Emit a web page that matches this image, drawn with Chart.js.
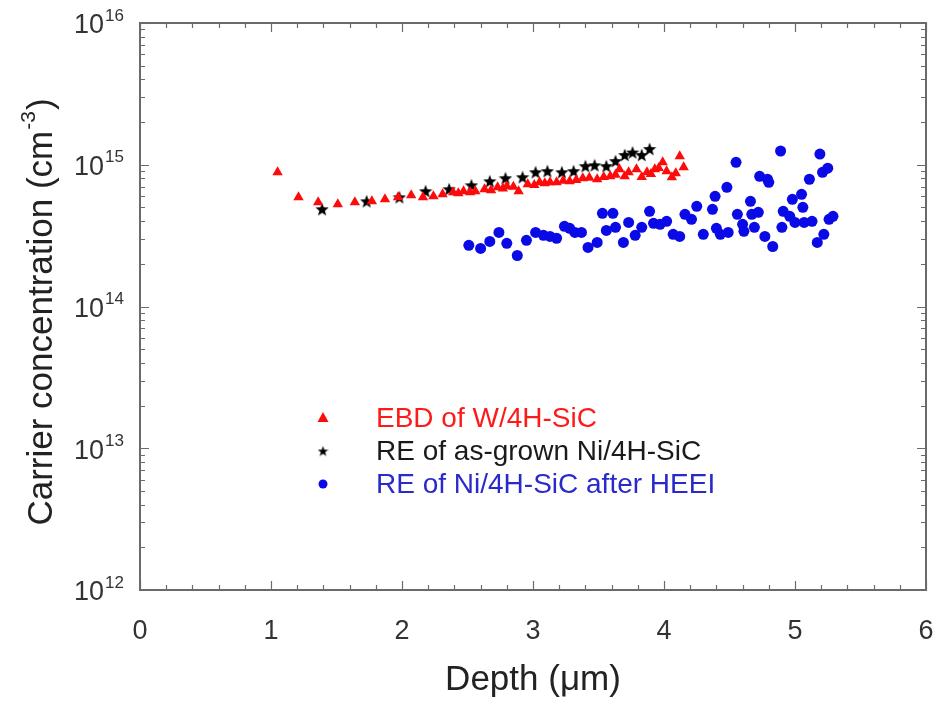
<!DOCTYPE html>
<html lang="en">
<head>
  <meta charset="UTF-8">
  <title>Carrier concentration vs depth</title>
  <script src="https://cdn.jsdelivr.net/npm/chart.js"></script>
  <style>
    body { margin: 0; padding: 0; background: #fff; }
    canvas { display: block; }
  </style>
</head>
<body>
  <canvas id="profile" width="937" height="704"></canvas>

  <script>
    // EBD of W/4H-SiC (red triangles)
    const depthEBD = [1.05, 1.21, 1.36, 1.51, 1.64, 1.77, 1.87, 1.97, 2.07, 2.16, 2.24, 2.31, 2.39, 2.43, 2.47, 2.52,
      2.56, 2.63, 2.68, 2.73, 2.77, 2.80, 2.85, 2.89, 2.96, 3.01, 3.05, 3.09, 3.13, 3.18, 3.23, 3.28, 3.33, 3.38,
      3.43, 3.49, 3.54, 3.59, 3.63, 3.66, 3.70, 3.73, 3.79, 3.83, 3.87, 3.90, 3.93, 3.96, 3.99, 4.02, 4.06, 4.09,
      4.12, 4.15];
    const concEBD = [8.85e14, 5.89e14, 5.43e14, 5.26e14, 5.43e14, 5.52e14, 5.70e14, 5.89e14, 6.09e14, 5.89e14, 5.99e14,
      6.19e14, 6.40e14, 6.30e14, 6.50e14, 6.40e14, 6.50e14, 6.71e14, 6.60e14, 6.93e14, 6.80e14, 7.05e14, 7.00e14,
      6.50e14, 7.28e14, 7.20e14, 7.52e14, 7.40e14, 7.52e14, 7.52e14, 7.70e14, 7.64e14, 7.80e14, 8.03e14, 8.10e14,
      7.90e14, 8.20e14, 8.30e14, 8.50e14, 9.30e14, 8.30e14, 8.85e14, 9.30e14, 8.20e14, 8.85e14, 8.60e14, 9.30e14,
      9.50e14, 1.04e15, 9.00e14, 8.16e14, 8.70e14, 1.15e15, 9.60e14];

    // RE of as-grown Ni/4H-SiC (black stars)
    const depthAsGrown = [1.39, 1.73, 1.98, 2.18, 2.36, 2.53, 2.67, 2.79, 2.92, 3.02, 3.11, 3.22, 3.31, 3.40, 3.47,
      3.56, 3.63, 3.70, 3.76, 3.83, 3.89];
    const concAsGrown = [4.85e14, 5.52e14, 5.89e14, 6.50e14, 6.71e14, 7.16e14, 7.64e14, 8.03e14, 8.16e14, 8.85e14,
      9.00e14, 8.85e14, 9.00e14, 9.76e14, 9.90e14, 9.76e14, 1.06e15, 1.17e15, 1.22e15, 1.17e15, 1.29e15];

    // RE of Ni/4H-SiC after HEEI (blue circles)
    const depthHEEI = [2.51, 2.60, 2.67, 2.74, 2.80, 2.88, 2.95, 3.02, 3.08, 3.13, 3.18, 3.24, 3.28, 3.32, 3.37, 3.42,
      3.49, 3.53, 3.56, 3.61, 3.63, 3.69, 3.73, 3.78, 3.83, 3.89, 3.92, 3.97, 4.02, 4.07, 4.12, 4.16, 4.21, 4.25,
      4.30, 4.37, 4.39, 4.40, 4.43, 4.48, 4.49, 4.55, 4.56, 4.60, 4.61, 4.66, 4.67, 4.69, 4.72, 4.73, 4.77, 4.79,
      4.80, 4.83, 4.89, 4.90, 4.91, 4.96, 4.98, 5.00, 5.05, 5.06, 5.07, 5.11, 5.13, 5.17, 5.19, 5.21, 5.22, 5.25,
      5.26, 5.29];
    const concHEEI = [2.70e14, 2.57e14, 2.88e14, 3.33e14, 2.79e14, 2.29e14, 2.93e14, 3.33e14, 3.18e14, 3.12e14,
      3.03e14, 3.68e14, 3.56e14, 3.33e14, 3.33e14, 2.61e14, 2.83e14, 4.54e14, 3.44e14, 4.54e14, 3.62e14, 2.83e14,
      3.92e14, 3.18e14, 3.62e14, 4.69e14, 3.86e14, 3.80e14, 3.99e14, 3.23e14, 3.12e14, 4.47e14, 4.12e14, 5.09e14,
      3.23e14, 4.85e14, 5.99e14, 3.56e14, 3.23e14, 6.93e14, 3.33e14, 1.04e15, 4.47e14, 3.80e14, 3.39e14, 5.52e14,
      4.47e14, 3.62e14, 4.62e14, 8.29e14, 3.12e14, 7.90e14, 7.52e14, 2.65e14, 1.25e15, 3.62e14, 4.69e14, 4.33e14,
      5.70e14, 3.92e14, 6.19e14, 5.01e14, 3.92e14, 7.90e14, 3.99e14, 2.83e14, 1.19e15, 8.85e14, 3.23e14, 9.45e14,
      4.12e14, 4.33e14];

    const seriesLabels = ['EBD of W/4H-SiC', 'RE of as-grown Ni/4H-SiC', 'RE of Ni/4H-SiC after HEEI'];
    const seriesColors = ['#ff0a0a', '#000000', '#0a0ae6'];
    const legendTextColors = ['#ff1a1a', '#1a1a1a', '#2a2acc'];
    const yDecades = [12, 13, 14, 15, 16];

    const FONT = "'Liberation Sans', Arial, sans-serif";
    const AXIS_COLOR = '#6a6a6a';

    const toPoints = (xs, ys) => xs.map((x, i) => ({ x: x, y: ys[i] }));

    // filled five point star used as point style
    function makeStar(size) {
      const c = document.createElement('canvas');
      c.width = size; c.height = size;
      const g = c.getContext('2d');
      const cx = size / 2, cy = size / 2 + 0.5, ro = size / 2, ri = ro * 0.42;
      g.beginPath();
      for (let i = 0; i < 10; i++) {
        const r = i % 2 === 0 ? ro : ri;
        const a = -Math.PI / 2 + i * Math.PI / 5;
        g.lineTo(cx + r * Math.cos(a), cy + r * Math.sin(a));
      }
      g.closePath();
      g.fillStyle = '#000';
      g.fill();
      return c;
    }
    const starImg = makeStar(14);
    const starSmall = makeStar(11);

    // frame, inward ticks, exponent tick labels, y title and legend
    const decorations = {
      id: 'decorations',
      beforeDatasetsDraw(chart) {
        const { ctx, chartArea: a, scales: { x, y } } = chart;
        ctx.save();
        ctx.strokeStyle = AXIS_COLOR;
        ctx.lineWidth = 1.2;
        ctx.beginPath();
        for (let v = 0; v <= 6.0001; v += 0.2) {
          const px = Math.round(x.getPixelForValue(v)) + 0.5;
          const major = Math.abs(v - Math.round(v)) < 1e-6;
          const len = major ? 9 : 5;
          ctx.moveTo(px, a.bottom); ctx.lineTo(px, a.bottom - len);
          ctx.moveTo(px, a.top); ctx.lineTo(px, a.top + len);
        }
        for (let d = 12; d < 16; d++) {
          for (let m = 1; m <= 9; m++) {
            const py = Math.round(y.getPixelForValue(m * Math.pow(10, d))) + 0.5;
            const len = m === 1 ? 9 : 5;
            ctx.moveTo(a.left, py); ctx.lineTo(a.left + len, py);
            ctx.moveTo(a.right, py); ctx.lineTo(a.right - len, py);
          }
        }
        ctx.stroke();
        ctx.lineWidth = 2;
        ctx.strokeRect(a.left, a.top, a.right - a.left, a.bottom - a.top);

        // y tick labels 10^n
        ctx.fillStyle = '#333';
        ctx.textBaseline = 'middle';
        yDecades.forEach(d => {
          const py = y.getPixelForValue(Math.pow(10, d));
          ctx.font = '17px ' + FONT;
          const sup = String(d);
          const sw = ctx.measureText(sup).width;
          const supX = 124 - sw;
          ctx.textAlign = 'left';
          ctx.fillText(sup, supX, py - 7);
          ctx.font = '27px ' + FONT;
          ctx.textAlign = 'right';
          ctx.fillText('10', supX - 1, py + 3);
        });

        // y axis title with superscript
        const main = 'Carrier concentration (cm';
        ctx.translate(42, 312);
        ctx.rotate(-Math.PI / 2);
        ctx.font = '35px ' + FONT;
        const w1 = ctx.measureText(main).width;
        ctx.font = '21px ' + FONT;
        const w2 = ctx.measureText('-3').width;
        ctx.font = '35px ' + FONT;
        const w3 = ctx.measureText(')').width;
        let sx = -(w1 + w2 + w3 + 2) / 2;
        ctx.textAlign = 'left';
        ctx.fillStyle = '#222';
        ctx.fillText(main, sx, 0);
        ctx.font = '21px ' + FONT;
        ctx.fillText('-3', sx + w1 + 1, -13);
        ctx.font = '35px ' + FONT;
        ctx.fillText(')', sx + w1 + w2 + 2, 0);
        ctx.restore();
      },
      afterDraw(chart) {
        const { ctx } = chart;
        ctx.save();
        const rows = [418, 451, 484];
        const mx = 323, tx = 376;
        // triangle
        ctx.fillStyle = seriesColors[0];
        ctx.beginPath();
        ctx.moveTo(mx, rows[0] - 6); ctx.lineTo(mx + 5.5, rows[0] + 4); ctx.lineTo(mx - 5.5, rows[0] + 4);
        ctx.closePath(); ctx.fill();
        // star
        ctx.drawImage(starSmall, mx - 5.5, rows[1] - 5.5);
        // circle
        ctx.fillStyle = seriesColors[2];
        ctx.beginPath(); ctx.arc(mx, rows[2], 4.5, 0, Math.PI * 2); ctx.fill();

        ctx.font = '28px ' + FONT;
        ctx.textAlign = 'left';
        ctx.textBaseline = 'middle';
        seriesLabels.forEach((t, i) => {
          ctx.fillStyle = legendTextColors[i];
          ctx.fillText(t, tx, rows[i] + 1);
        });
        ctx.restore();
      }
    };

    new Chart(document.getElementById('profile'), {
      type: 'scatter',
      data: {
        datasets: [
          {
            label: seriesLabels[0], data: toPoints(depthEBD, concEBD),
            pointStyle: 'triangle', pointRadius: 6, backgroundColor: seriesColors[0],
            borderColor: seriesColors[0], borderWidth: 0
          },
          {
            label: seriesLabels[1], data: toPoints(depthAsGrown, concAsGrown),
            pointStyle: starImg, pointRadius: 7
          },
          {
            label: seriesLabels[2], data: toPoints(depthHEEI, concHEEI),
            pointStyle: 'circle', pointRadius: 5.5, backgroundColor: seriesColors[2],
            borderColor: seriesColors[2], borderWidth: 0
          }
        ]
      },
      options: {
        responsive: false,
        animation: false,
        layout: { padding: { left: 0, right: 11, top: 23, bottom: 0 } },
        plugins: { legend: { display: false }, tooltip: { enabled: false } },
        scales: {
          x: {
            type: 'linear', min: 0, max: 6,
            grid: { display: false, drawTicks: true, tickLength: 24 },
            border: { display: false },
            ticks: { stepSize: 1, color: '#333', padding: 1, font: { family: FONT, size: 27 } },
            title: {
              display: true, text: 'Depth (\u03bcm)', color: '#222',
              font: { family: FONT, size: 35 }, padding: { top: 0, bottom: 3 }
            },
            afterFit: s => { s.height = 114; }
          },
          y: {
            type: 'logarithmic', min: 1e12, max: 1e16,
            grid: { display: false, drawTicks: false },
            border: { display: false },
            ticks: { display: false },
            afterFit: s => { s.width = 140; }
          }
        }
      },
      plugins: [decorations]
    });
  </script>
</body>
</html>
